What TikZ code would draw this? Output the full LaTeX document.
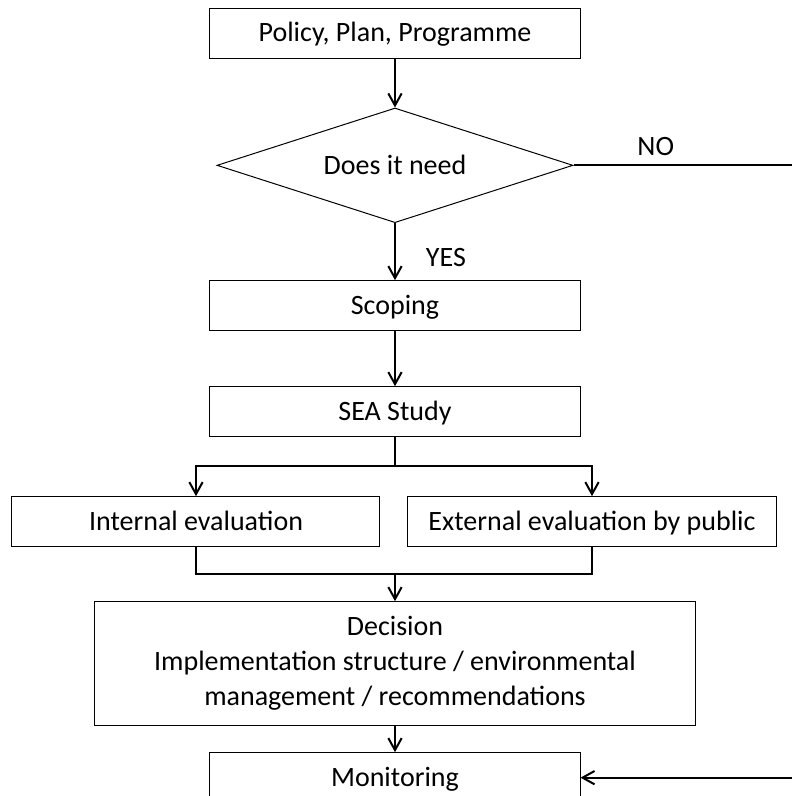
\documentclass[tikz,border=0pt]{standalone}
\usepackage{fontspec}
\setmainfont{Carlito}
\usetikzlibrary{arrows.meta,positioning,shapes.geometric,calc}

\begin{document}
\begin{tikzpicture}[
  font=\fontsize{21}{26.25}\selectfont,
  frame/.style={draw, line width=0.75pt, minimum width=277.5pt, minimum height=37.5pt, inner sep=0pt, align=center},
  box/.style={frame, text height=18pt, text depth=4.7pt},
  evalbox/.style={box, minimum width=276pt},
  decide/.style={draw, diamond, line width=0.75pt, aspect=3.1, minimum width=267pt, minimum height=86pt, inner sep=0pt, text height=18pt, text depth=4.7pt},
  link/.style={line width=1.5pt},
  tag/.style={inner sep=0pt},
  >={Straight Barb[length=9pt,width=10pt]}
]
\useasboundingbox (-296.25pt,24.75pt) rectangle (297.75pt,-572.25pt);
\clip (-296.25pt,24.75pt) rectangle (297.75pt,-572.25pt);

\node (PPP) [box] {Policy, Plan, Programme};
\node (Need) [decide, below=36.75pt of PPP] {Does it need};
\node (Scope) [box, below=42.75pt of Need] {Scoping};
\node (SEA) [box, below=41.25pt of Scope] {SEA Study};
\node (Int) [evalbox, below=44.25pt of SEA, xshift=-149.25pt] {Internal evaluation};
\node (Ext) [evalbox, right=20.25pt of Int] {External evaluation by public};
\node (Dec) [frame, minimum width=450pt, minimum height=93pt, below=123pt of SEA] {Decision\\Implementation structure / environmental\\management / recommendations};
\node (Mon) [box, below=19.5pt of Dec] {Monitoring};

\coordinate (split) at ($(SEA.south)+(0,-21.75pt)$);
\coordinate (join) at ($(Dec.north)+(0,20.25pt)$);
\coordinate (back) at ($(Need.east)+(170pt,0)$);

\draw[link,->] (PPP) -- (Need);
\draw[link,->] (Need) -- node[tag, pos=0.6, right=22.5pt] {YES} (Scope);
\draw[link,->] (Scope) -- (SEA);
\draw[link] (SEA) -- (split);
\draw[link,->] (split) -| (Int);
\draw[link,->] (split) -| (Ext);
\draw[link] (Int) |- (join) -| (Ext);
\draw[link,->] (join) -- (Dec);
\draw[link,->] (Dec) -- (Mon);
\draw[link,->] (Need) -- node[tag, pos=0.363, above=6.5pt] {NO} (back) |- (Mon);
\end{tikzpicture}
\end{document}
